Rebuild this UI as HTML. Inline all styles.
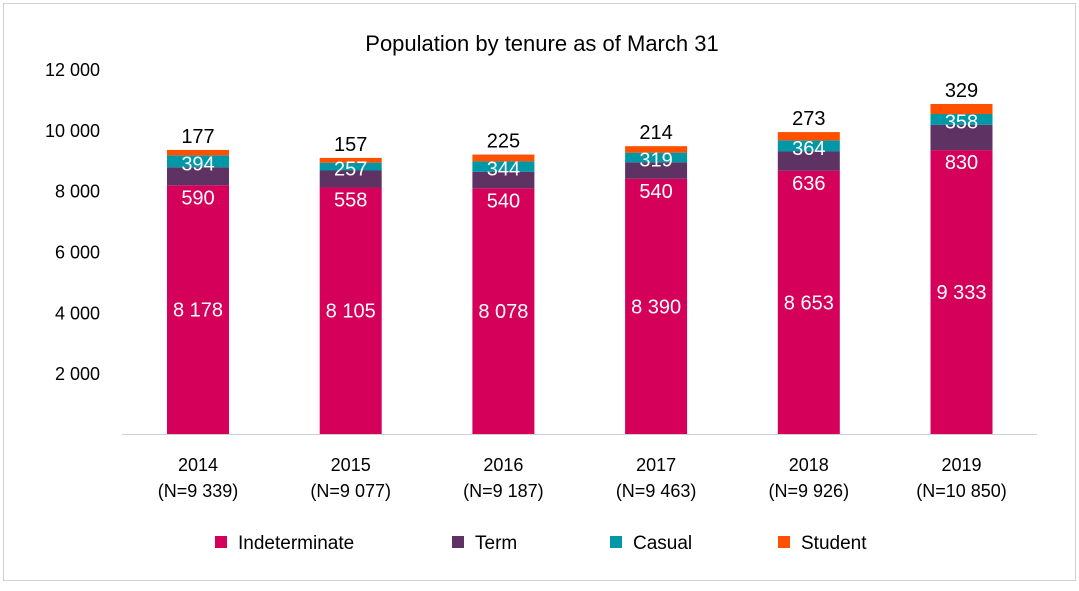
<!DOCTYPE html>
<html><head><meta charset="utf-8"><style>
body{margin:0;background:#fff;font-family:"Liberation Sans",sans-serif}
svg text{font-family:"Liberation Sans",sans-serif}
</style></head><body>
<svg id="c" width="1079" height="586">
<rect x="3.5" y="3.5" width="1072" height="577" fill="#fff" stroke="#d0d0d0"/>
<text x="542" y="51" text-anchor="middle" font-size="22" fill="#000">Population by tenure as of March 31</text>
<g id="plot"></g>
</svg>
<script>
const years=["2014","2015","2016","2017","2018","2019"];
const totals=["9 339","9 077","9 187","9 463","9 926","10 850"];
const indeterminate=[8178,8105,8078,8390,8653,9333];
const term=[590,558,540,540,636,830];
const casual=[394,257,344,319,364,358];
const student=[177,157,225,214,273,329];
const yTicks=[2000,4000,6000,8000,10000,12000];
const colors={ind:"#d4005a",term:"#5e3262",cas:"#0097a7",stu:"#ff5000"};
const ns="http://www.w3.org/2000/svg";
const g=document.getElementById("plot");
const y=v=>434-v*(365/12000);
const x=i=>198+i*152.7;
const fmt=v=>String(v).replace(/\B(?=(\d{3})+(?!\d))/g," ");
function mk(t,a,txt){const e=document.createElementNS(ns,t);for(const k in a)e.setAttribute(k,a[k]);if(txt!==undefined)e.textContent=txt;g.appendChild(e);return e;}
yTicks.forEach(t=>{const e=mk("text",{x:100,y:y(t)+7,"text-anchor":"end","font-size":18,fill:"#000"},fmt(t));

});
const ax=mk("line",{x1:122,x2:1037,y1:434.5,y2:434.5,stroke:"#d0d0d0"});


years.forEach((yr,i)=>{
 const cx=x(i),w=62;
 let base=0;
 const segs=[["ind",indeterminate[i]],["term",term[i]],["cas",casual[i]],["stu",student[i]]];
 const bounds=[];
 segs.forEach(([k,v])=>{const r=mk("rect",{x:cx-w/2,y:y(base+v),width:w,height:y(base)-y(base+v),fill:colors[k]});
  
  
  bounds.push([y(base),y(base+v)]);base+=v;});
 const lbl=(ty,txt,fill,nm)=>{const e=mk("text",{x:cx,y:ty+7,"text-anchor":"middle","font-size":20,fill:fill},txt);
  
  };
 lbl((bounds[0][0]+bounds[0][1])/2,fmt(indeterminate[i]),"#fff","label-indeterminate");
 lbl(bounds[1][0]+12,fmt(term[i]),"#fff","label-term");
 lbl((bounds[2][0]+bounds[2][1])/2+2,fmt(casual[i]),"#fff","label-casual");
 lbl(bounds[3][1]-14,fmt(student[i]),"#000","label-student");
 const c1=mk("text",{x:cx,y:471,"text-anchor":"middle","font-size":18,fill:"#000"},yr);
 
 
 const c2=mk("text",{x:cx,y:497,"text-anchor":"middle","font-size":18,fill:"#000"},"(N="+totals[i]+")");
 
 
});
const legend=[["Indeterminate","ind",215],["Term","term",452],["Casual","cas",610],["Student","stu",778]];
legend.forEach(([n,k,lx])=>{
 const s=mk("rect",{x:lx,y:536,width:12,height:12,fill:colors[k]});
 
 
 const t=mk("text",{x:lx+23,y:549,"font-size":19,fill:"#000"},n);
 
 
});
</script>
</body></html>
